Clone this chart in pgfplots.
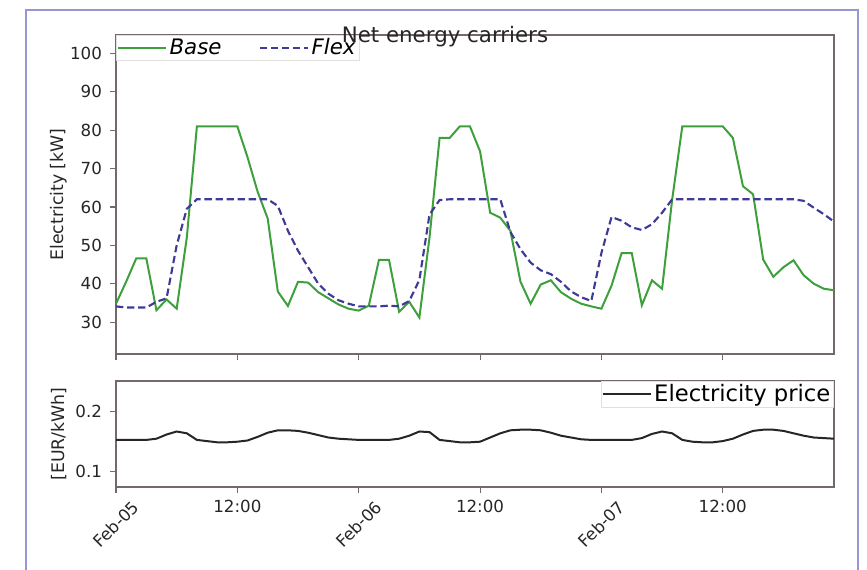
\documentclass[border=0pt]{standalone}
\usepackage{fontspec}
\setmainfont{DejaVu Sans}
\usepackage{graphicx}
\usepackage{pgfplots}
\usepackage{pgfplotstable}
\pgfplotsset{compat=1.18}

\definecolor{basegreen}{RGB}{62,160,60}
\definecolor{flexblue}{RGB}{62,58,150}
\definecolor{axisgray}{RGB}{115,105,105}
\definecolor{framecol}{RGB}{150,150,210}

\pgfplotstableread{
h base flex price
0 34.8 34.1 0.153
1 40.5 33.8 0.153
2 46.6 33.8 0.153
3 46.6 33.8 0.153
4 33.1 35.3 0.155
5 35.9 36.2 0.162
6 33.5 50.0 0.167
7 52.0 59.5 0.164
8 81.0 62.0 0.153
9 81.0 62.0 0.151
10 81.0 62.0 0.149
11 81.0 62.0 0.149
12 81.0 62.0 0.150
13 73.0 62.0 0.152
14 64.0 62.0 0.158
15 57.0 62.0 0.165
16 38.0 60.3 0.169
17 34.2 53.8 0.169
18 40.5 48.6 0.168
19 40.3 44.3 0.165
20 37.8 40.0 0.161
21 36.2 37.4 0.157
22 34.6 35.7 0.155
23 33.5 34.8 0.154
24 33.0 34.1 0.153
25 34.3 34.1 0.153
26 46.2 34.1 0.153
27 46.2 34.3 0.153
28 32.7 34.1 0.155
29 35.3 35.5 0.160
30 31.2 41.0 0.167
31 52.0 58.0 0.166
32 78.0 61.8 0.153
33 78.0 62.0 0.151
34 81.0 62.0 0.149
35 81.0 62.0 0.149
36 74.5 62.0 0.150
37 58.5 62.0 0.157
38 57.2 62.0 0.164
39 53.8 53.5 0.169
40 40.5 49.0 0.170
41 34.8 45.5 0.170
42 39.8 43.5 0.169
43 40.9 42.5 0.165
44 37.8 40.5 0.160
45 36.1 38.0 0.157
46 34.8 36.5 0.154
47 34.1 35.5 0.153
48 33.5 48.0 0.153
49 39.5 57.4 0.153
50 48.0 56.4 0.153
51 48.0 54.7 0.153
52 34.4 54.0 0.156
53 40.9 55.5 0.163
54 38.7 58.5 0.167
55 62.0 62.0 0.164
56 81.0 62.0 0.153
57 81.0 62.0 0.150
58 81.0 62.0 0.149
59 81.0 62.0 0.149
60 81.0 62.0 0.151
61 78.0 62.0 0.155
62 65.4 62.0 0.162
63 63.3 62.0 0.168
64 46.3 62.0 0.170
65 41.8 62.0 0.170
66 44.3 62.0 0.168
67 46.1 62.0 0.164
68 42.2 61.6 0.160
69 40.0 59.8 0.157
70 38.7 58.1 0.156
71 38.3 56.2 0.155
}\datatable

\pgfplotsset{
  panel/.style={
    scale only axis,
    width=538.5pt,
    xmin=0, xmax=71,
    axis line style={axisgray, line width=0.9pt},
    tick style={axisgray, line width=0.8pt},
    tick align=outside,
    major tick length=4.5pt,
    xtick pos=left, ytick pos=left,
    xtick={0,12,24,36,48,60},
    ticklabel style={font=\fontsize{12.5}{14}\selectfont, text=black!85},
    yticklabel style={xshift=-2.5pt},
    /pgf/number format/assume math mode=true,
    every axis y label/.style={at={(rel axis cs:-0.08,0.5)}, rotate=90, anchor=center,
      font=\fontsize{13}{15}\selectfont, text=black!85},
    legend cell align=left,
    legend image code/.code={\draw[#1] (0pt,0pt) -- (36pt,0pt);},
  }
}

\begin{document}
\begin{tikzpicture}
\path[use as bounding box] (0pt,0pt) rectangle (650.25pt,427.5pt);
\draw[framecol, line width=0.8pt] (19.5pt,-2pt) -- (19.5pt,420pt) -- (643.5pt,420pt) -- (643.5pt,-2pt);

\begin{axis}[panel,
  at={(87pt,162pt)}, anchor=south west,
  height=239.25pt,
  ymin=21.7, ymax=104.8,
  ytick={30,40,...,100},
  xticklabels={},
  ylabel={Electricity [kW]},
  legend columns=2,
  legend style={at={(0,1)}, anchor=north west, draw=black!12, fill=white, fill opacity=0.8, text opacity=1,
    font=\fontsize{16}{18}\selectfont\itshape, inner sep=0.5pt,
    /tikz/every even column/.append style={column sep=26pt}},
]
\addplot[basegreen, line width=1.5pt] table[x=h, y=base] {\datatable};
\addlegendentry{Base}
\addplot[flexblue, line width=1.6pt, dash pattern=on 5.5pt off 2.8pt] table[x=h, y=flex] {\datatable};
\addlegendentry{Flex}
\end{axis}

\node[font=\fontsize{16}{18}\selectfont, text=black!85, inner sep=0pt] at (333.75pt,400pt) {Net energy carriers};

\begin{axis}[panel,
  at={(87pt,62.25pt)}, anchor=south west,
  height=79.5pt,
  ymin=0.0745, ymax=0.2512,
  ytick={0.1,0.2},
  yticklabel style={/pgf/number format/fixed, /pgf/number format/precision=1},
  xticklabels={\rotatebox{45}{Feb-05}, 12:00, \rotatebox{45}{Feb-06}, 12:00, \rotatebox{45}{Feb-07}, 12:00},
  xticklabel style={anchor=north, yshift=-1.5pt},
  ylabel={[EUR/kWh]},
  legend style={at={(1,1)}, anchor=north east, draw=black!12, fill=white, fill opacity=0.8, text opacity=1,
    font=\fontsize{17}{19}\selectfont, inner sep=0.5pt},
]
\addplot[black!85, line width=1.5pt] table[x=h, y=price] {\datatable};
\addlegendentry{Electricity price}
\end{axis}
\end{tikzpicture}
\end{document}
